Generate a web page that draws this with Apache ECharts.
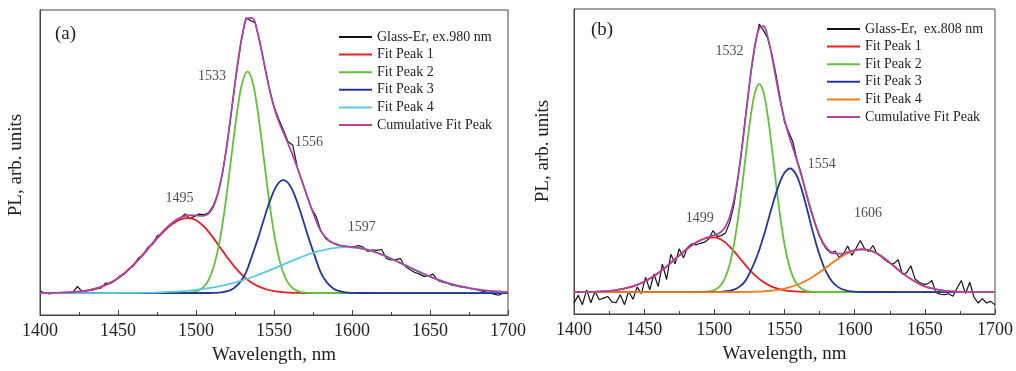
<!DOCTYPE html>
<html><head><meta charset="utf-8">
<script src="https://cdn.jsdelivr.net/npm/echarts@6/dist/echarts.min.js"></script>
<style>html,body{margin:0;padding:0;background:#fff}#c{width:1016px;height:371px}</style>
</head><body><div id="c"></div>
<script>
// ---------- helpers for wavelength sample positions ----------
function grid(start, step, n){ const a=[]; for(let i=0;i<n;i++) a.push(start+i*step); return a; }
function pair(xs, ys){ const n=Math.min(xs.length, ys.length); const o=[]; for(let i=0;i<n;i++) o.push([xs[i], ys[i]]); return o; }

// ---------- Panel (a): Glass-Er, ex.980 nm ----------
const aDataX = grid(1400,3,101);
const aDataY = [0.6,0.1,-0.3,0.1,0.0,0.2,-0.1,0.3,2.4,0.5,
0.9,1.0,1.5,1.8,3.6,3.5,4.6,6.2,7.0,8.9,
10.0,12.8,13.8,16.6,17.6,20.8,21.6,23.4,25.1,25.9,
27.3,28.9,27.1,28.0,28.8,28.6,29.3,31.8,36.3,43.8,
54.5,67.5,80.6,91.9,100.4,99.5,98.6,91.2,82.8,74.6,
68.0,63.5,59.5,55.2,54.0,45.8,40.8,35.8,30.8,28.0,
22.8,20.0,18.7,18.2,17.4,17.2,16.7,16.9,17.3,16.8,
15.2,15.8,15.6,15.9,12.6,12.1,12.2,12.6,9.8,8.6,
7.6,7.0,6.1,6.3,6.9,4.6,4.0,3.6,2.9,2.6,
2.2,2.2,1.6,1.3,0.9,0.5,0.1,-0.4,-0.8,0.0,
0.2];

const aPeak1X = grid(1400,5,61);
const aPeak1Y = [0.02,0.04,0.08,0.16,0.30,0.54,0.93,1.54,2.44,3.71,
5.42,7.62,10.28,13.34,16.62,19.9,22.89,25.29,26.86,27.4,
26.6,24.33,20.96,17.02,13.03,9.39,6.38,4.08,2.46,1.40,
0.75,0.38,0.18,0.08,0.03,0.01,
0,0,0,0,0,0,0,0,0,0,0,0,0,0,0,0,0,0,0,0,0,0,0,0,0];

const aPeak2X = [1400, ...grid(1491,3,29), 1700];
const aPeak2Y = [0, 0.03,0.08,0.23,0.58,1.36,2.96,5.93,10.93,18.59,29.12,42.05,55.96,68.62,77.57,80.8,
77.57,68.62,55.96,42.05,29.12,18.59,10.93,5.93,2.96,1.36,0.58,0.23,0.08,0.03, 0];

const aPeak3X = [1400, ...grid(1508,4,25), 1700];
const aPeak3Y = [0, 0.02,0.08,0.25,0.7,1.7,3.8,7.5,13.75,20.41,27.76,34.56,39.43,41.2,
39.43,34.56,27.76,20.41,13.75,7.5,3.8,1.7,0.7,0.25,0.08,0.02, 0];

const aPeak4X = [1400, ...grid(1437,10,27), 1700];
const aPeak4Y = [0, 0.01,0.03,0.06,0.14,0.28,0.54,0.99,1.69,2.74,4.19,6.05,8.27,10.67,13.02,15.0,16.33,16.8,
16.2,14.52,12.09,9.37,6.74,4.51,2.81,1.62,0.87,0.44, 0.38];

const aCumX = [...grid(1400,5,21), ...grid(1503,3,23), ...grid(1575,5,26)];
const aCumY = [0.02,0.04,0.08,0.16,0.30,0.54,0.93,1.55,2.46,3.73,5.46,7.68,10.36,13.46,16.79,20.15,23.24,25.77,27.54,28.4,28.36,
28.14,28.34,29.6,32.73,38.52,47.36,59.01,72.23,85.01,95.11,100.3,100.4,96.2,88.6,80.0,72.2,65.9,61.3,57.3,53.2,48.8,44.0,39.0,
29.4,22.6,19.3,17.7,17.15,16.8,16.44,15.79,14.93,13.85,12.62,11.29,9.91,8.55,7.24,6.02,4.92,3.94,3.10,2.40,1.82,1.36,0.99,0.71,0.50,0.35];

const aPeakLabels = [[1489.4,34.7,'1495'],[1510.3,79.2,'1533'],[1572.4,55.1,'1556'],[1606.2,24.1,'1597']];

// ---------- Panel (b): Glass-Er, ex.808 nm ----------
const bDataX = grid(1400,3,101);
const bDataY = [-4.0,-1.2,-4.6,0.8,-3.9,0.2,-2.8,-2.2,-1.6,-3.6,
-3.9,-1.0,-4.6,0.3,-2.6,1.8,-0.6,5.4,0.8,6.6,
2.0,10.2,4.6,13.8,10.3,15.8,12.5,16.4,17.6,17.2,
17.8,18.2,19.4,22.4,20.3,20.6,21.6,25.5,31.8,42.0,
54.4,67.5,80.0,90.0,97.8,95.5,92.6,86.8,79.2,70.5,
62.0,58.4,54.8,48.0,43.2,36.8,31.0,26.0,21.5,18.0,
15.6,14.2,15.0,12.6,14.0,16.8,13.4,16.0,18.8,15.9,
14.8,17.0,14.0,12.9,11.5,10.5,10.4,11.8,6.5,7.0,
9.6,4.8,3.6,2.8,3.0,4.2,-0.1,-0.8,-0.9,-0.6,
-1.5,1.5,4.2,-0.5,3.6,-1.8,-4.0,-2.4,-4.0,-3.4,
-4.6];

const bPeak1X = grid(1400,5,61);
const bPeak1Y = [0.02,0.04,0.08,0.15,0.26,0.44,0.73,1.16,1.77,2.63,
3.76,5.2,6.94,8.94,11.14,13.39,15.56,17.45,18.9,19.78,
19.97,19.08,17.06,14.28,11.2,8.22,5.65,3.64,2.19,1.24,
0.65,0.32,0.15,0.07,0.03,0.01,
0,0,0,0,0,0,0,0,0,0,0,0,0,0,0,0,0,0,0,0,0,0,0,0,0];

const bPeak2X = [1400, ...grid(1490,3,29), 1700];
const bPeak2Y = [0, 0.03,0.08,0.21,0.54,1.28,2.79,5.57,10.27,17.46,27.35,39.5,52.57,64.46,72.87,75.9,
72.87,64.46,52.57,39.5,27.35,17.46,10.27,5.57,2.79,1.28,0.54,0.21,0.08,0.03, 0];

const bPeak3X = [1400, ...grid(1498,4,28), 1700];
const bPeak3Y = [0, 0.02,0.05,0.15,0.4,0.9,2.0,4.0,7.9,12.54,18.54,25.53,32.75,39.12,43.52,45.1,
43.16,37.84,30.38,22.34,15.05,9.29,5.25,2.72,1.29,0.56,0.22,0.08,0.03, 0];

const bPeak4X = grid(1400,5,61);
const bPeak4Y = [0,0,0,0,0,0,0,0,0,0,0,0,0,0,0,0,0,0,0,0,
0,0,0.01,0.02,0.04,0.08,0.15,0.28,0.48,0.8,
1.27,1.95,2.87,4.07,5.53,7.23,9.08,10.96,12.71,14.16,
15.16,15.59,15.34,14.35,12.74,10.74,8.6,6.54,4.73,3.24,
2.11,1.31,0.77,0.43,0.23,0.11,0.05,0.02,0.01,0,0];

const bCumX = [...grid(1400,5,21), ...grid(1502,3,23), ...grid(1575,5,26)];
const bCumY = [0.02,0.04,0.08,0.15,0.26,0.44,0.73,1.16,1.77,2.63,3.76,5.2,6.94,8.94,11.14,13.39,15.56,17.45,18.92,19.93,20.77,
21.15,22.09,23.97,27.57,33.65,42.59,53.84,67.01,79.82,90.23,96.26,97.01,93.09,86.05,77.73,69.73,62.9,57.35,52.56,47.73,42.5,37.08,31.46,
20.66,16.14,14.16,14.0,14.61,15.29,15.62,15.35,14.35,12.74,10.74,8.6,6.54,4.73,3.24,2.11,1.31,0.77,0.43,0.23,0.11,0.05,0.02,0.01,0,0];

const bPeakLabels = [[1489.6,27.0,'1499'],[1510.8,88.0,'1532'],[1576.5,46.7,'1554'],[1609.5,28.8,'1606']];

// ---------- styling ----------
const FONT = "'Liberation Serif','Times New Roman',serif";
const C = {data:'#151515', p1:'#ec1c24', p2:'#62c23a', p3:'#26379a', p4a:'#5ccadc', p4b:'#f47a1e', cum:'#ac46a4'};
const AX = '#444';

function line(name, xs, ys, color, width, idx, smooth){
  return {type:'line', name, xAxisIndex:idx, yAxisIndex:idx, data:pair(xs,ys), symbol:'none', showSymbol:false,
    smooth: smooth, lineStyle:{color, width}, itemStyle:{color}, silent:true};
}
function labels(arr, idx){
  return {type:'scatter', name:'labels'+idx, xAxisIndex:idx, yAxisIndex:idx, data:arr, symbol:'circle', symbolSize:1,
    itemStyle:{color:'rgba(0,0,0,0)'}, silent:true,
    label:{show:true, position:'inside', formatter:p=>p.data[2], fontFamily:FONT, fontSize:14, color:'#222'}};
}
function xAx(idx){
  return {gridIndex:idx, type:'value', min:1400, max:1700, interval:50,
    name:'Wavelength, nm', nameLocation:'middle', nameGap:31,
    nameTextStyle:{fontFamily:FONT, fontSize:19, color:'#222'},
    axisLine:{show:true, onZero:false, lineStyle:{color:AX, width:1}},
    axisTick:{show:true, inside:true, length:5, lineStyle:{color:AX}},
    minorTick:{show:true, splitNumber:2, length:3, lineStyle:{color:AX}},
    axisLabel:{fontFamily:FONT, fontSize:18, color:'#222', margin:7, formatter: v => String(v)},
    splitLine:{show:false}, minorSplitLine:{show:false}};
}
function yAx(idx, gap, pad){
  return {gridIndex:idx, type:'value', min:-8, max:103.3,
    name:'PL, arb. units', nameLocation:'middle', nameGap:gap,
    nameTextStyle:{fontFamily:FONT, fontSize:19, color:'#222', padding:pad},
    axisLine:{show:true, onZero:false, lineStyle:{color:AX, width:1}},
    axisTick:{show:false}, axisLabel:{show:false}, splitLine:{show:false}};
}
function legend(left, top, names, p4color){
  return {left, top, orient:'vertical', icon:'rect', itemWidth:33, itemHeight:2, itemGap:3.6, selectedMode:false,
    textStyle:{fontFamily:FONT, fontSize:14, color:'#222', lineHeight:14},
    data: names.map(n => n==='Fit Peak 4' ? {name:n, itemStyle:{color:p4color}, lineStyle:{color:p4color}} : n)};
}

const nameA = 'Glass-Er, ex.980 nm';
const nameB = 'Glass-Er,  ex.808 nm';
const peakNames = ['Fit Peak 1','Fit Peak 2','Fit Peak 3','Fit Peak 4','Cumulative Fit Peak'];

const option = {
  animation:false,
  backgroundColor:'#fff',
  title:[
    {text:'(a)', left:55, top:25, padding:0, textStyle:{fontFamily:FONT, fontSize:19, fontWeight:'normal', color:'#222'}},
    {text:'(b)', left:591, top:21, padding:0, textStyle:{fontFamily:FONT, fontSize:19, fontWeight:'normal', color:'#222'}}
  ],
  grid:[
    {left:40, top:10, width:468, height:305, show:true, borderColor:AX, borderWidth:1, backgroundColor:'transparent'},
    {left:574, top:9, width:421, height:305, show:true, borderColor:AX, borderWidth:1, backgroundColor:'transparent'}
  ],
  xAxis:[xAx(0), xAx(1)],
  yAxis:[yAx(0,14,[0,5,0,0]), yAx(1,21,[0,0,0,21])],
  legend:[legend(334,25,[nameA,...peakNames],C.p4a), legend(822,17,[nameB,...peakNames],C.p4b)],
  series:[
    line(nameA, aDataX, aDataY, C.data, 1.2, 0, false),
    line('Fit Peak 1', aPeak1X, aPeak1Y, C.p1, 1.8, 0, 0.4),
    line('Fit Peak 2', aPeak2X, aPeak2Y, C.p2, 1.8, 0, 0.4),
    line('Fit Peak 3', aPeak3X, aPeak3Y, C.p3, 1.8, 0, 0.4),
    line('Fit Peak 4', aPeak4X, aPeak4Y, C.p4a, 1.8, 0, 0.4),
    line('Cumulative Fit Peak', aCumX, aCumY, C.cum, 1.8, 0, 0.4),
    labels(aPeakLabels, 0),
    line(nameB, bDataX, bDataY, C.data, 1.2, 1, false),
    line('Fit Peak 1', bPeak1X, bPeak1Y, C.p1, 1.8, 1, 0.4),
    line('Fit Peak 2', bPeak2X, bPeak2Y, C.p2, 1.8, 1, 0.4),
    line('Fit Peak 3', bPeak3X, bPeak3Y, C.p3, 1.8, 1, 0.4),
    line('Fit Peak 4', bPeak4X, bPeak4Y, C.p4b, 1.8, 1, 0.4),
    line('Cumulative Fit Peak', bCumX, bCumY, C.cum, 1.8, 1, 0.4),
    labels(bPeakLabels, 1)
  ]
};
const chart = echarts.init(document.getElementById('c'), null, {renderer:'canvas'});
chart.setOption(option);
</script></body></html>
